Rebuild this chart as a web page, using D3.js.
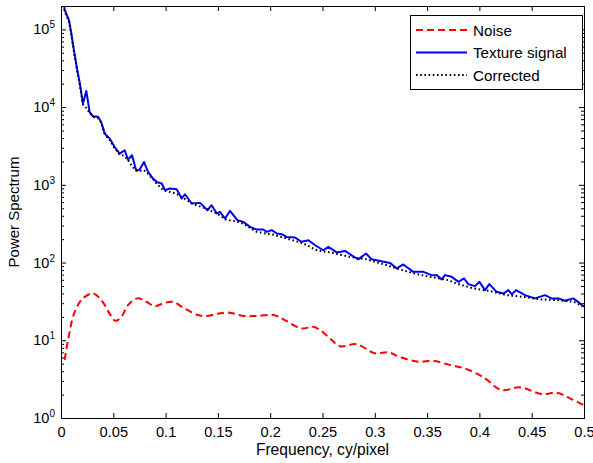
<!DOCTYPE html>
<html><head><meta charset="utf-8">
<script src="https://cdn.jsdelivr.net/npm/d3@7"></script>
<style>body{margin:0;background:#fff} text{font-family:"Liberation Sans",Arial,Helvetica,sans-serif;fill:#000}</style>
</head><body><svg id="c" width="593" height="463"></svg>
<script>
// ---- data ----
const noiseFreq=[0.0035,0.0067,0.013,0.021,0.0306,0.0386,0.0465,0.052,0.0577,0.064,0.073,0.0816,0.0895,0.0975,0.107,0.118,0.131,0.139,0.150,0.160,0.174,0.188,0.203,0.214,0.2297,0.241,0.2476,0.257,0.2667,0.2827,0.300,0.313,0.324,0.3416,0.356,0.372,0.386,0.404,0.421,0.439,0.4596,0.474,0.4866,0.4993];
const noiseVal=[5.6,10,23,34.6,40,32.9,22,17.8,20,28.3,34.6,31.3,27.5,29.8,31.3,25.7,21.1,20.5,22,22.8,20.6,20.6,21.1,18.2,14.2,14.9,13.6,10.6,8.4,8.9,6.8,7.0,6.1,5.3,5.45,4.8,4.35,3.33,2.29,2.48,2.03,2.11,1.79,1.47];

const signalFreq=[0.0025,0.0035,0.0077,0.0099,0.0124,0.0156,0.0178,0.021,0.0242,0.0274,0.0306,0.0354,0.0385,0.0418,0.0465,0.0513,0.0561,0.0609,0.064,0.0679,0.072,0.0752,0.0793,0.0832,0.088,0.0915,0.0963,0.0994,0.104,0.1106,0.1154,0.1185,0.125,0.133,0.140,0.144,0.149,0.152,0.1568,0.1616,0.1686,0.1743,0.1807,0.187,0.1934,0.1967,0.2014,0.2062,0.211,0.2158,0.2237,0.230,0.2365,0.243,0.2508,0.2556,0.2636,0.2715,0.2779,0.2842,0.2916,0.297,0.305,0.3145,0.321,0.3272,0.3368,0.3464,0.3544,0.3592,0.364,0.367,0.3735,0.38,0.3853,0.3894,0.3958,0.40,0.4054,0.4095,0.4165,0.423,0.4277,0.431,0.435,0.4436,0.4532,0.4627,0.469,0.4755,0.4818,0.4898,0.4962,0.5];
const signalVal=[215000,179000,130600,88000,53700,29700,21000,11100,16100,8650,7620,7500,6440,4560,3940,3070,2520,2790,2110,2400,1510,1570,1970,1466,1205,1090,1040,853,896,878,667,757,575,586,471,547,427,449,369,462,351,334,288,266,266,248,261,237,232,214,210,185,194,167,144,159,135,141,124,110,131,110,105,99,84,94.6,76,76,68.9,68.9,60.6,68.9,65.5,56.5,62.5,52.8,49.7,56.5,44.2,52.8,42,40,44.2,38.9,44.2,38.1,34.6,38.1,34.6,34.6,32.2,34.6,29.8,27];

const correctedFreq=[0.0025,0.0035,0.0077,0.0099,0.0124,0.0156,0.0178,0.021,0.0242,0.0274,0.031,0.035,0.0385,0.042,0.0465,0.051,0.056,0.061,0.065,0.070,0.0752,0.079,0.083,0.088,0.0915,0.0978,0.104,0.110,0.1154,0.1265,0.136,0.149,0.1584,0.165,0.174,0.187,0.203,0.2158,0.2317,0.2445,0.260,0.2763,0.2922,0.308,0.324,0.34,0.356,0.370,0.378,0.394,0.41,0.426,0.442,0.458,0.474,0.49,0.5];
const correctedVal=[205000,172000,125000,85000,51000,28500,20000,10800,9700,8400,7500,7300,6300,4400,3800,3000,2450,2350,2000,1600,1500,1550,1400,1180,1030,853,811,770,699,563,510,430,351,345,318,248,228,204,176,144,133,118,110,95.4,81.5,71,64.3,59.4,53.9,46.5,43,38.1,36.2,33.6,32.9,31.3,27];

const xTicks=[0,0.05,0.1,0.15,0.2,0.25,0.3,0.35,0.4,0.45,0.5];
const xTickLabels=["0","0.05","0.1","0.15","0.2","0.25","0.3","0.35","0.4","0.45","0.5"];
const yTickExp=[0,1,2,3,4,5];
const legendLabels=["Noise","Texture signal","Corrected"];
const xLabel="Frequency, cy/pixel", yLabel="Power Spectrum";

// ---- drawing ----
const svg=d3.select("#c");
const L=61,R=584,T=6,B=418;
const x=d3.scaleLinear().domain([0,0.5]).range([L,R]);
const y=d3.scaleLog().domain([1,2e5]).range([B,T]);

svg.append("defs").append("clipPath").attr("id","pc").append("rect")
  .attr("x",L).attr("y",T).attr("width",R-L).attr("height",B-T);

const line=d3.line().x(d=>x(d[0])).y(d=>y(d[1]));
const zip=(a,b)=>a.map((v,i)=>[v,b[i]]);
const g=svg.append("g").attr("clip-path","url(#pc)");

const styles=[
  {color:"#ff0000",dash:"7,4",w:2},
  {color:"#0000ff",dash:null,w:2},
  {color:"#000000",dash:"1.6,2.6",w:2}
];
g.append("path").datum(zip(noiseFreq,noiseVal))
  .attr("d",line.curve(d3.curveCatmullRom)).attr("fill","none")
  .attr("stroke",styles[0].color).attr("stroke-width",styles[0].w).attr("stroke-dasharray",styles[0].dash);
line.curve(d3.curveLinear);
g.append("path").datum(zip(signalFreq,signalVal))
  .attr("d",line).attr("fill","none")
  .attr("stroke",styles[1].color).attr("stroke-width",styles[1].w).attr("stroke-linejoin","round");
g.append("path").datum(zip(correctedFreq,correctedVal))
  .attr("d",line).attr("fill","none")
  .attr("stroke",styles[2].color).attr("stroke-width",styles[2].w).attr("stroke-dasharray",styles[2].dash);

// axes
const major=yTickExp.map(e=>Math.pow(10,e));
const minor=[];
yTickExp.forEach(e=>{for(let m=2;m<=9;m++){const v=m*Math.pow(10,e); if(v<2e5) minor.push(v);}});

function styleAxis(sel){sel.select(".domain").remove(); sel.selectAll("line").attr("stroke","#000"); sel.selectAll("text").attr("font-size",14.6).attr("font-family","Liberation Sans, Arial, sans-serif").attr("fill","#000");}

svg.append("g").attr("transform",`translate(0,${B})`)
  .call(d3.axisBottom(x).tickValues(xTicks).tickFormat((d,i)=>xTickLabels[i]).tickSizeInner(-5).tickSizeOuter(0).tickPadding(9))
  .call(styleAxis);
svg.append("g").attr("transform",`translate(0,${T})`)
  .call(d3.axisTop(x).tickValues(xTicks).tickFormat("").tickSizeInner(-5).tickSizeOuter(0))
  .call(styleAxis);
svg.append("g").attr("transform",`translate(${L},0)`)
  .call(d3.axisLeft(y).tickValues(major).tickFormat("").tickSizeInner(-5).tickSizeOuter(0)).call(styleAxis);
svg.append("g").attr("transform",`translate(${L},0)`)
  .call(d3.axisLeft(y).tickValues(minor).tickFormat("").tickSizeInner(-3).tickSizeOuter(0)).call(styleAxis);
svg.append("g").attr("transform",`translate(${R},0)`)
  .call(d3.axisRight(y).tickValues(major).tickFormat("").tickSizeInner(-5).tickSizeOuter(0)).call(styleAxis);
svg.append("g").attr("transform",`translate(${R},0)`)
  .call(d3.axisRight(y).tickValues(minor).tickFormat("").tickSizeInner(-3).tickSizeOuter(0)).call(styleAxis);

// y tick labels with superscripts
yTickExp.forEach(e=>{
  const t=svg.append("text").attr("x",L-6).attr("y",y(Math.pow(10,e))+5)
    .attr("text-anchor","end").attr("font-size",14.5);
  t.append("tspan").text("10");
  t.append("tspan").attr("dy",-6).attr("font-size",10).text(String(e));
});

// frame
svg.append("rect").attr("x",L+0.5).attr("y",T+0.5).attr("width",R-L).attr("height",B-T)
  .attr("fill","none").attr("stroke","#000").attr("stroke-width",1);

// labels
svg.append("text").attr("x",(L+R)/2).attr("y",455).attr("text-anchor","middle").attr("font-size",15.6).text(xLabel);
svg.append("text").attr("transform",`translate(19,${(T+B)/2}) rotate(-90)`).attr("text-anchor","middle").attr("font-size",15).text(yLabel);

// legend
const lg=svg.append("g");
lg.append("rect").attr("x",410.5).attr("y",15.5).attr("width",172).attr("height",74)
  .attr("fill","#fff").attr("stroke","#000").attr("stroke-width",1);
legendLabels.forEach((lab,i)=>{
  const yy=30+i*22.5;
  const s=styles[i];
  lg.append("line").attr("x1",416).attr("x2",467).attr("y1",yy).attr("y2",yy)
    .attr("stroke",s.color).attr("stroke-width",s.w).attr("stroke-dasharray",s.dash);
  lg.append("text").attr("x",473).attr("y",yy+5.5).attr("font-size",15.2).text(lab);
});
</script></body></html>
